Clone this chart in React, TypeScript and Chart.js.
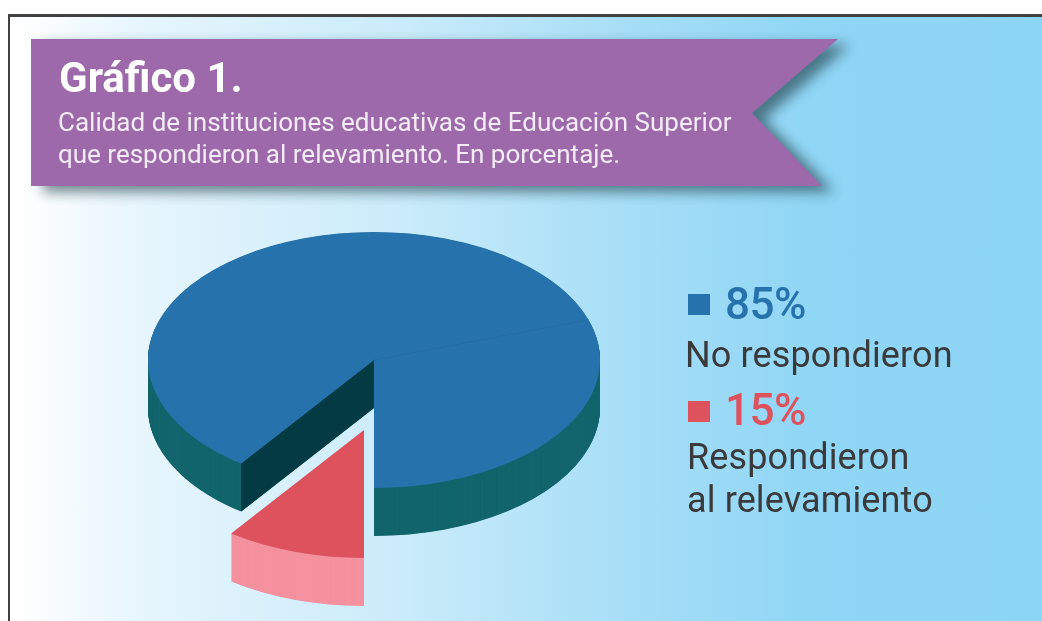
import React, { useEffect, useRef } from "react";
import { Chart, registerables } from "chart.js";

Chart.register(...registerables);

// Slice shares as actually drawn in the picture (the red wedge spans about 36 degrees).
const sliceLabels = ["No respondieron", "Respondieron al relevamiento"];
const sliceShares = [90, 10];
// Percentages as printed in the legend.
const legendPercents = ["85%", "15%"];
const legendLines = [["No respondieron"], ["Respondieron", "al relevamiento"]];
const topColors = ["#2672ac", "#de525e"];
const sideColors = ["#12656c", "#f5929f"];
const cutFaceColor = "#033a43";

const SQUASH = 128 / 226;
const CENTER_Y = 360;
const DEPTH = 48;
const EXPLODE = [{ x: 0, y: 0 }, { x: -10, y: 70 }];
const SEAM_ANGLE = ((71.7 - 90) * Math.PI) / 180;

function withColor(arc: any, color: string, fn: () => void) {
  const orig = arc.options;
  arc.options = Object.create(orig, { backgroundColor: { value: color } });
  fn();
  arc.options = orig;
}

const pie3d = {
  id: "pie3d",
  beforeDatasetsDraw(chart: any) {
    const ctx = chart.ctx as CanvasRenderingContext2D;
    const arcs = chart.getDatasetMeta(0).data;
    arcs.forEach((arc: any, i: number) => {
      const ex = EXPLODE[i];
      const project = (depth: number) => {
        ctx.translate(ex.x, CENTER_Y + ex.y + depth);
        ctx.scale(1, SQUASH);
        ctx.translate(0, -arc.y);
      };
      withColor(arc, sideColors[i], () => {
        for (let d = DEPTH; d > 0; d -= 0.5) {
          ctx.save();
          project(d);
          arc.draw(ctx);
          ctx.restore();
        }
      });
      if (i === 0) {
        const px = arc.x + Math.cos(arc.startAngle) * arc.outerRadius;
        const py = CENTER_Y + Math.sin(arc.startAngle) * arc.outerRadius * SQUASH;
        ctx.save();
        ctx.fillStyle = cutFaceColor;
        ctx.beginPath();
        ctx.moveTo(arc.x, CENTER_Y);
        ctx.lineTo(px, py);
        ctx.lineTo(px, py + DEPTH);
        ctx.lineTo(arc.x, CENTER_Y + DEPTH);
        ctx.closePath();
        ctx.fill();
        ctx.restore();
      }
      ctx.save();
      project(0);
      arc.draw(ctx);
      ctx.restore();
      if (i === 0) {
        ctx.save();
        ctx.strokeStyle = "#246ca3";
        ctx.lineWidth = 1;
        ctx.beginPath();
        ctx.moveTo(arc.x, CENTER_Y);
        ctx.lineTo(
          arc.x + Math.cos(SEAM_ANGLE) * arc.outerRadius,
          CENTER_Y + Math.sin(SEAM_ANGLE) * arc.outerRadius * SQUASH
        );
        ctx.stroke();
        ctx.restore();
      }
    });
    return false;
  },
};

const abs = (x: number, y: number, size: number, extra: React.CSSProperties = {}): React.CSSProperties => ({
  position: "absolute",
  left: x,
  top: y,
  fontSize: size,
  lineHeight: `${Math.round(size * 1.2)}px`,
  whiteSpace: "nowrap",
  ...extra,
});

const LEGEND_DARK = "#3a3a3c";

export default function App() {
  const ref = useRef<HTMLCanvasElement>(null);
  useEffect(() => {
    const chart = new Chart(ref.current!, {
      type: "pie",
      data: {
        labels: sliceLabels,
        datasets: [{ data: sliceShares, backgroundColor: topColors, borderWidth: 0 }],
      },
      options: {
        animation: false,
        responsive: false,
        rotation: 216,
        events: [],
        layout: { padding: { left: 148, right: 442, top: 85, bottom: 84 } },
        plugins: { legend: { display: false }, tooltip: { enabled: false }, title: { display: false } },
      },
      plugins: [pie3d],
    });
    return () => chart.destroy();
  }, []);

  return (
    <div
      style={{
        position: "fixed",
        left: 0,
        top: 0,
        width: 1042,
        height: 621,
        overflow: "hidden",
        background: "#fff",
        fontFamily: "Roboto, sans-serif",
      }}
    >
      <div
        style={{
          position: "absolute",
          left: 8,
          top: 14,
          width: 1034,
          height: 607,
          boxSizing: "border-box",
          borderTop: "3px solid #3f4042",
          borderLeft: "2px solid #3f4042",
          background:
            "linear-gradient(90deg, #ffffff 0px, #ffffff 8px, #e8f6fd 120px, #c9ebfa 400px, #a6def7 620px, #90d6f5 800px, #8dd5f5 1034px)",
        }}
      />
      <svg width={1042} height={621} style={{ position: "absolute", left: 0, top: 0 }}>
        <defs>
          <filter id="bannerShadow" x="-10%" y="-30%" width="120%" height="160%">
            <feGaussianBlur stdDeviation="6.5" />
          </filter>
        </defs>
        <polygon
          points="31,39 838,39 752,113 822,186 31,186"
          transform="translate(12,6)"
          fill="#1f3a44"
          opacity={0.62}
          filter="url(#bannerShadow)"
        />
        <polygon points="31,39 838,39 752,113 822,186 31,186" fill="#9d69aa" />
      </svg>
      <canvas ref={ref} width={1042} height={621} style={{ position: "absolute", left: 0, top: 0 }} />

      <div style={abs(59, 53, 42, { fontWeight: 700, color: "#fff" })}>Gráfico 1.</div>
      <div style={abs(58, 107, 26, { color: "#f3ecf5" })}>Calidad de instituciones educativas de Educación Superior</div>
      <div style={abs(58, 139, 26, { color: "#f3ecf5" })}>que respondieron al relevamiento. En porcentaje.</div>

      <div style={{ position: "absolute", left: 688, top: 294, width: 22, height: 21, background: topColors[0] }} />
      <div style={abs(725, 278, 44, { color: topColors[0], fontWeight: 500, letterSpacing: -0.5 })}>{legendPercents[0]}</div>
      <div style={abs(685, 334, 36, { color: LEGEND_DARK, letterSpacing: 0.13 })}>{legendLines[0][0]}</div>

      <div style={{ position: "absolute", left: 688, top: 401, width: 22, height: 21, background: topColors[1] }} />
      <div style={abs(725, 384, 44, { color: topColors[1], fontWeight: 500, letterSpacing: -0.5 })}>{legendPercents[1]}</div>
      <div style={abs(687, 436, 36, { color: LEGEND_DARK, letterSpacing: 0.13 })}>{legendLines[1][0]}</div>
      <div style={abs(687, 479, 36, { color: LEGEND_DARK, letterSpacing: 0.13 })}>{legendLines[1][1]}</div>
    </div>
  );
}
